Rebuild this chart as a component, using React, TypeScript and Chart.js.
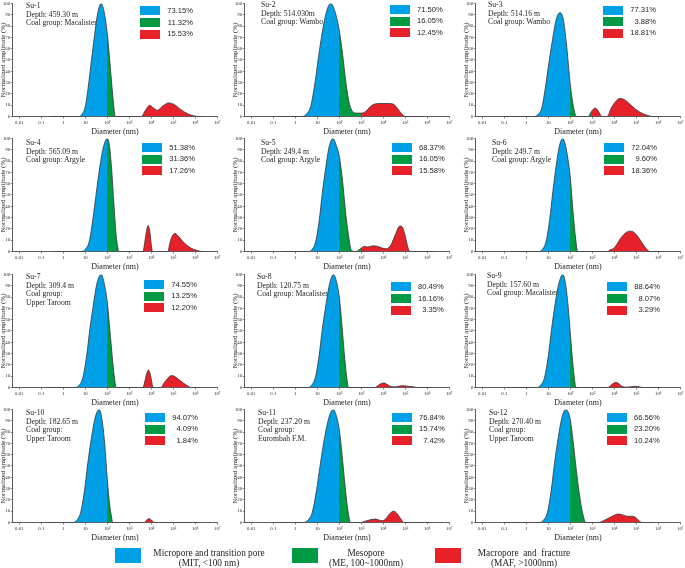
import React, { useEffect, useRef } from 'react';
import { Chart, registerables } from 'chart.js';

Chart.register(...registerables);

// ---------- data ----------
const X_TICKS = [0.01, 0.1, 1, 10, 100, 1e3, 1e4, 1e5, 1e6, 1e7];
const X_TICK_LABELS = ['0.01', '0.1', '1', '10', '10²', '10³', '10⁴', '10⁵', '10⁶', '10⁷'];
const Y_TICKS = [0, 10, 20, 30, 40, 50, 60, 70, 80, 90, 100];
const CLASS_LIMITS = [100, 1000]; // nm: MIT < 100, ME 100~1000, MAF > 1000

const SAMPLES = ['Su-1', 'Su-2', 'Su-3', 'Su-4', 'Su-5', 'Su-6', 'Su-7', 'Su-8', 'Su-9', 'Su-10', 'Su-11', 'Su-12'];
const DEPTHS = [
  'Depth: 459.30 m', 'Depth: 514.030m', 'Depth: 514.16 m', 'Depth: 565.09 m',
  'Depth: 249.4 m', 'Depth: 249.7 m', 'Depth: 309.4 m', 'Depth: 120.75 m',
  'Depth: 157.60 m', 'Depth: 182.65 m', 'Depth: 237.20 m', 'Depth: 270.40 m',
];
const COAL_GROUPS = [
  ['Coal group: Macalister'], ['Coal group: Wambo'], ['Coal group: Wambo'], ['Coal group: Argyle'],
  ['Coal group: Argyle'], ['Coal group: Argyle'], ['Coal group:', 'Upper Taroom'], ['Coal group: Macalister'],
  ['Coal group: Macalister'], ['Coal group:', 'Upper Taroom'], ['Coal group:', 'Eurombah F.M.'], ['Coal group:', 'Upper Taroom'],
];
const MIT_PCT = ['73.15%', '71.50%', '77.31%', '51.38%', '68.37%', '72.04%', '74.55%', '80.49%', '88.64%', '94.07%', '76.84%', '66.56%'];
const ME_PCT = ['11.32%', '16.05%', '3.88%', '31.36%', '16.05%', '9.60%', '13.25%', '16.16%', '8.07%', '4.09%', '15.74%', '23.20%'];
const MAF_PCT = ['15.53%', '12.45%', '18.81%', '17.26%', '15.58%', '18.36%', '12.20%', '3.35%', '3.29%', '1.84%', '7.42%', '10.24%'];

const LEGEND_LINES = [
  ['Micropore and transition pore', '(MIT, <100 nm)'],
  ['Mesopore', '(ME, 100~1000nm)'],
  ['Macropore  and  fracture', '(MAF, >1000nm)'],
];

// curves: [log10(diameter / nm), normalized amplitude %]
const SU1 = [[-0.6, 0], [0.69, 0], [0.85, 2], [1.0, 9], [1.14, 27], [1.28, 50], [1.42, 72], [1.57, 92], [1.72, 100], [1.85, 93], [2, 73],
  [2.1, 52], [2.2, 29], [2.3, 8], [2.36, 0], [3, 0],
  [3.55, 0], [3.72, 5], [3.93, 10], [4.1, 7.5], [4.28, 5.5], [4.5, 9], [4.8, 12], [5.05, 10.5], [5.35, 6], [5.65, 2.5], [5.95, 0.5], [6.1, 0], [6.35, 0]];
const SU2 = [[-0.95, 0], [0.3, 0], [0.5, 2], [0.7, 9], [0.88, 28], [1.05, 52], [1.23, 75], [1.42, 93], [1.61, 100], [1.8, 93], [2, 76],
  [2.15, 55], [2.3, 30], [2.45, 12], [2.6, 4.5], [2.8, 3], [3, 3],
  [3.2, 4.5], [3.4, 8.5], [3.6, 11], [3.9, 11.5], [4.2, 11.5], [4.45, 11], [4.65, 7], [4.85, 2], [5.0, 0], [5.85, 0]];
const SU3 = [[-0.95, 0], [0.36, 0], [0.54, 2], [0.71, 8], [0.87, 26], [1.03, 48], [1.2, 69], [1.36, 86], [1.53, 92], [1.68, 86], [1.82, 65], [2, 28],
  [2.12, 11], [2.28, 0], [2.82, 0], [2.92, 3], [3, 5.5],
  [3.13, 7.5], [3.25, 5.5], [3.38, 1], [3.45, 0], [3.68, 0], [3.85, 7], [4.05, 13], [4.25, 16], [4.45, 15], [4.7, 11], [5.0, 6], [5.3, 2.5], [5.6, 0.5], [5.75, 0], [6.05, 0]];
const SU4 = [[-0.42, 0], [0.83, 0], [1.0, 2], [1.18, 9], [1.34, 28], [1.5, 52], [1.66, 75], [1.83, 93], [2, 100],
  [2.1, 93], [2.2, 72], [2.3, 42], [2.4, 15], [2.48, 3], [2.52, 0], [3, 0],
  [3.62, 0], [3.7, 8], [3.8, 20], [3.86, 23], [3.93, 18], [4.0, 6], [4.05, 0], [4.75, 0], [4.85, 8], [4.95, 13.5], [5.08, 16], [5.25, 13], [5.5, 7.5], [5.8, 3], [6.1, 0.8], [6.35, 0], [6.5, 0]];
const SU5 = [[-0.62, 0], [0.6, 0], [0.77, 2], [0.93, 9], [1.09, 28], [1.23, 52], [1.39, 75], [1.54, 93], [1.71, 100], [1.86, 94], [2, 84],
  [2.15, 62], [2.3, 32], [2.45, 10], [2.55, 1], [2.75, 0], [2.9, 1.5], [3, 3],
  [3.1, 4.5], [3.3, 4], [3.55, 5], [3.75, 4.5], [3.95, 3], [4.15, 2.5], [4.35, 6], [4.55, 15], [4.75, 22.5], [4.85, 22], [4.98, 15], [5.1, 5], [5.2, 0], [6.3, 0]];
const SU6 = [[-0.73, 0], [0.58, 0], [0.74, 2], [0.9, 9], [1.06, 28], [1.2, 52], [1.35, 75], [1.5, 93], [1.66, 100], [1.8, 92], [1.92, 78], [2, 65],
  [2.12, 36], [2.25, 10], [2.33, 0], [3, 0],
  [3.7, 0], [3.8, 1.5], [3.95, 2.5], [4.1, 6], [4.3, 12], [4.55, 17], [4.75, 18], [4.95, 16], [5.15, 11], [5.35, 5], [5.5, 1.5], [5.6, 0], [6.3, 0]];
const SU7 = [[-0.78, 0], [0.54, 0], [0.72, 2], [0.89, 9], [1.06, 28], [1.21, 52], [1.38, 75], [1.54, 93], [1.72, 100], [1.86, 92], [2, 75],
  [2.12, 50], [2.25, 22], [2.35, 5], [2.4, 0], [3, 0],
  [3.62, 0], [3.7, 5], [3.8, 13], [3.87, 15.5], [3.95, 12], [4.03, 4], [4.08, 0], [4.45, 0], [4.55, 3], [4.7, 7], [4.9, 10.5], [5.05, 10], [5.25, 7], [5.45, 4], [5.65, 1.5], [5.8, 0], [6.2, 0]];
const SU8 = [[-0.74, 0], [0.56, 0], [0.74, 2], [0.91, 9], [1.08, 28], [1.23, 52], [1.4, 74], [1.56, 92], [1.74, 100], [1.88, 93], [2, 80],
  [2.12, 55], [2.25, 25], [2.35, 7], [2.42, 0], [3, 0],
  [3.6, 0], [3.75, 1.5], [3.9, 3.5], [4.0, 4], [4.15, 3], [4.3, 1.2], [4.5, 0.6], [4.7, 1.2], [4.88, 1.5], [5.1, 1.2], [5.35, 0.6], [5.55, 0], [6.15, 0]];
const SU9 = [[-0.84, 0], [0.47, 0], [0.65, 2], [0.83, 9], [1.0, 28], [1.15, 52], [1.31, 74], [1.48, 92], [1.66, 100], [1.78, 92], [1.9, 72], [2, 48],
  [2.1, 24], [2.2, 6], [2.25, 0], [3, 0],
  [3.7, 0], [3.85, 2], [4.0, 4.2], [4.08, 4.5], [4.2, 3.5], [4.35, 1], [4.5, 0.3], [4.75, 0.6], [4.95, 1], [5.15, 0.5], [5.3, 0], [6.1, 0]];
const SU10 = [[-0.83, 0], [0.43, 0], [0.61, 2], [0.79, 9], [0.96, 28], [1.11, 52], [1.28, 75], [1.45, 93], [1.63, 100], [1.75, 92], [1.88, 70], [2, 38],
  [2.1, 17], [2.2, 4], [2.24, 0], [3, 0],
  [3.68, 0], [3.78, 2], [3.88, 3.5], [3.98, 2.5], [4.1, 0.5], [4.2, 0], [6.15, 0]];
const SU11 = [[-0.93, 0], [0.36, 0], [0.57, 2], [0.77, 9], [0.96, 28], [1.14, 52], [1.33, 75], [1.53, 93], [1.73, 100], [1.87, 94], [2, 82],
  [2.15, 55], [2.3, 25], [2.42, 7], [2.5, 0], [3, 0],
  [3.1, 0.8], [3.3, 1.8], [3.5, 2.8], [3.64, 3], [3.8, 2.2], [3.95, 1.5], [4.1, 3], [4.3, 8], [4.48, 10], [4.62, 8], [4.8, 3], [4.94, 0], [6.15, 0]];
const SU12 = [[-1.0, 0], [0.6, 0], [0.78, 2], [0.96, 9], [1.13, 28], [1.28, 52], [1.45, 75], [1.62, 93], [1.8, 100], [1.92, 97], [2, 91],
  [2.15, 68], [2.3, 42], [2.45, 20], [2.6, 5], [2.7, 0], [3, 0],
  [3.3, 0], [3.5, 1.5], [3.75, 4], [4.0, 6.5], [4.2, 7.5], [4.4, 6.5], [4.6, 5.5], [4.8, 5.5], [5.0, 4], [5.15, 1], [5.25, 0], [5.85, 0]];

const CURVES = [SU1, SU2, SU3, SU4, SU5, SU6, SU7, SU8, SU9, SU10, SU11, SU12];

// ---------- styles / layout ----------
const BLUE = '#00a0e9';
const GREEN = '#009a44';
const RED = '#e6212a';
const INK = '#1e1e1e';
const SERIF = '"Liberation Serif", "DejaVu Serif", serif';
const SANS = '"Liberation Sans", Arial, sans-serif';

const COL_LEFT = [0, 232, 463];
const ROW_TOP = [0, 135, 271, 406];
const AXIS_W = 12.7;
const PAD_TOP = 3;
const PLOT_H = 113.5;
const XAX_H = 19.5;
const CANVAS_W = 222;
const CANVAS_H = PAD_TOP + PLOT_H + XAX_H;

const TEXT_DX = [13, 16.5, 12.6, 13, 16.5, 16, 13, 12.3, 11, 13, 13.3, 13];
const TEXT_DY = [3, 2.7, 2.3, 5.7, 5.7, 5.7, 3.7, 3.7, 2.7, 4.7, 4.7, 4.7];
const BOX_DX = [127.3, 145, 127.3, 129.3, 147, 128.3, 131.3, 146, 131.3, 132.3, 147, 131];
const BOX_DY = [3.3, 2, 2.5, 5, 5, 5, 6, 8.4, 8.4, 4, 4, 4];

function classFill(ctx: any) {
  const chart = ctx.chart;
  const area = chart.chartArea;
  const xs = chart.scales && chart.scales.x;
  if (!area || !xs) return BLUE;
  const w = area.right - area.left;
  const p1 = Math.min(Math.max((xs.getPixelForValue(CLASS_LIMITS[0]) - area.left) / w, 0), 1);
  const p2 = Math.min(Math.max((xs.getPixelForValue(CLASS_LIMITS[1]) - area.left) / w, 0), 1);
  const g = chart.ctx.createLinearGradient(area.left, 0, area.right, 0);
  g.addColorStop(0, BLUE);
  g.addColorStop(p1, BLUE);
  g.addColorStop(p1, GREEN);
  g.addColorStop(p2, GREEN);
  g.addColorStop(p2, RED);
  g.addColorStop(1, RED);
  return g;
}

function Panel({ idx }: { idx: number }) {
  const ref = useRef<HTMLCanvasElement>(null);
  useEffect(() => {
    const data = CURVES[idx].map(([e, a]) => ({ x: Math.pow(10, e), y: a }));
    const tickFont = { family: SERIF, size: 4.8 };
    const chart = new Chart(ref.current as HTMLCanvasElement, {
      type: 'line',
      data: {
        datasets: [
          {
            data,
            borderColor: '#333',
            borderWidth: 0.8,
            backgroundColor: classFill,
            fill: 'origin',
            pointRadius: 0,
            cubicInterpolationMode: 'monotone',
          },
        ],
      } as any,
      options: {
        animation: false,
        responsive: false,
        devicePixelRatio: 1,
        layout: { padding: { top: PAD_TOP, right: CANVAS_W - AXIS_W - 204.6, left: 0, bottom: 0 } },
        plugins: { legend: { display: false }, tooltip: { enabled: false } },
        scales: {
          x: {
            type: 'logarithmic',
            min: 0.005,
            max: 1e7,
            bounds: 'data',
            afterBuildTicks: (s: any) => { s.ticks = X_TICKS.map((v) => ({ value: v })); },
            afterFit: (s: any) => { s.height = XAX_H; },
            ticks: {
              autoSkip: false,
              maxRotation: 0,
              padding: 1,
              font: tickFont,
              color: INK,
              callback: (_v: any, i: number) => X_TICK_LABELS[i],
            },
            grid: { display: true, drawOnChartArea: false, drawTicks: true, tickLength: 2, color: '#333', lineWidth: 0.6 },
            border: { display: true, color: '#333', width: 0.8 },
            title: { display: true, text: 'Diameter (nm)', font: { family: SERIF, size: 8, lineHeight: 1.1 }, color: INK, padding: 0 },
          },
          y: {
            min: 0,
            max: 100,
            afterBuildTicks: (s: any) => { s.ticks = Y_TICKS.map((v) => ({ value: v })); },
            afterFit: (s: any) => { s.width = AXIS_W; },
            ticks: { padding: 0.6, font: tickFont, color: INK },
            grid: { display: true, drawOnChartArea: false, drawTicks: true, tickLength: 2, color: '#333', lineWidth: 0.6 },
            border: { display: true, color: '#333', width: 0.8 },
            title: { display: true, text: 'Normalized amplitude (%)', font: { family: SERIF, size: 7, lineHeight: 0.95 }, color: INK, padding: 0 },
          },
        },
      } as any,
    });
    return () => chart.destroy();
  }, [idx]);

  const col = idx % 3;
  const row = Math.floor(idx / 3);
  const left = COL_LEFT[col];
  const top = ROW_TOP[row];
  const axisX = left + AXIS_W;
  const plotTop = top + PAD_TOP;
  const lines = [SAMPLES[idx], DEPTHS[idx], ...COAL_GROUPS[idx]];
  const pcts = [MIT_PCT[idx], ME_PCT[idx], MAF_PCT[idx]];
  const colors = [BLUE, GREEN, RED];

  return (
    <>
      <div
        style={{
          position: 'absolute',
          left: axisX + TEXT_DX[idx],
          top: plotTop + TEXT_DY[idx] - 4.35,
          fontFamily: SERIF,
          fontSize: 7.7,
          lineHeight: '8.7px',
          color: INK,
          whiteSpace: 'nowrap',
          willChange: 'transform',
        }}
      >
        {lines.map((t, i) => (
          <div key={i}>{t}</div>
        ))}
      </div>
      <canvas
        ref={ref}
        width={CANVAS_W}
        height={CANVAS_H}
        style={{ position: 'absolute', left, top, width: CANVAS_W, height: CANVAS_H }}
      />
      {pcts.map((p, i) => (
        <React.Fragment key={i}>
          <div
            style={{
              position: 'absolute',
              left: axisX + BOX_DX[idx],
              top: plotTop + BOX_DY[idx] + i * 11.7,
              width: 20,
              height: 9,
              background: colors[i],
            }}
          />
          <div
            style={{
              position: 'absolute',
              left: axisX + BOX_DX[idx] + 20,
              top: plotTop + BOX_DY[idx] + i * 11.7 - 0.5,
              width: 33,
              textAlign: 'right',
              fontFamily: SANS,
              fontSize: 7.6,
              lineHeight: '10px',
              color: INK,
            }}
          >
            {p}
          </div>
        </React.Fragment>
      ))}
    </>
  );
}

const LEGEND_BOX_X = [114.6, 292, 435];
const LEGEND_TEXT_CX = [209, 366, 524];

export default function App() {
  return (
    <div
      style={{
        position: 'absolute',
        left: 0,
        top: 0,
        width: 685,
        height: 568,
        background: '#fff',
        overflow: 'hidden',
      }}
    >
      {CURVES.map((_c, i) => (
        <Panel key={i} idx={i} />
      ))}
      {LEGEND_LINES.map((ln, i) => (
        <React.Fragment key={i}>
          <div
            style={{
              position: 'absolute',
              left: LEGEND_BOX_X[i],
              top: 548,
              width: 26,
              height: 15,
              background: [BLUE, GREEN, RED][i],
            }}
          />
          <div
            style={{
              position: 'absolute',
              left: LEGEND_TEXT_CX[i] - 80,
              width: 160,
              top: 547.5,
              textAlign: 'center',
              fontFamily: SERIF,
              fontSize: 9.3,
              lineHeight: '10px',
              color: INK,
              whiteSpace: 'pre',
            }}
          >
            {ln.map((t, k) => (
              <div key={k}>{t}</div>
            ))}
          </div>
        </React.Fragment>
      ))}
    </div>
  );
}
